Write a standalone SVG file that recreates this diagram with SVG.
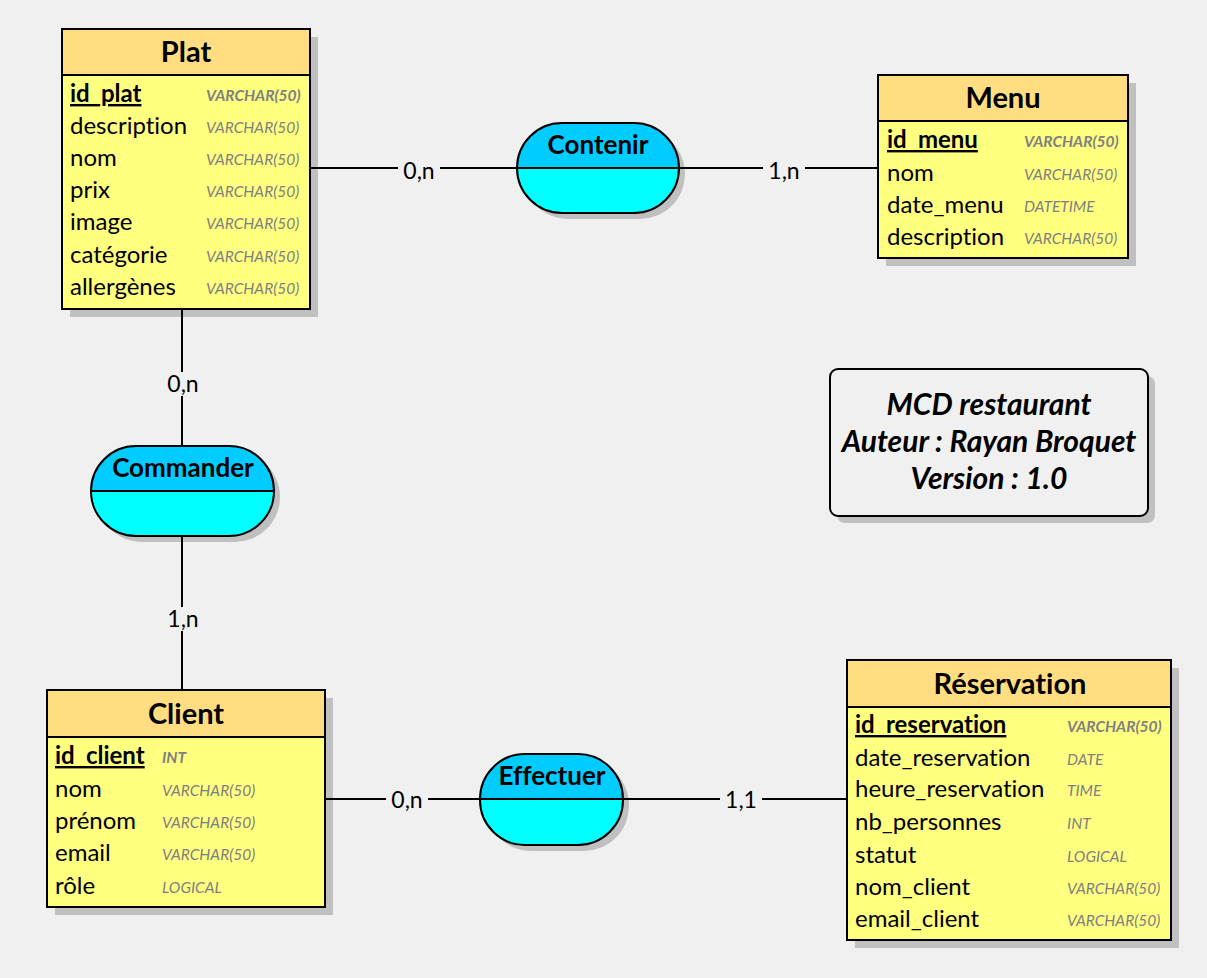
<svg xmlns="http://www.w3.org/2000/svg" width="1207" height="978" viewBox="0 0 1207 978">
<style>
text{font-variant-ligatures:none;font-feature-settings:"liga" 0}
.bg{fill:#f0f0f0}
.shadow{fill:#c0c0c0}
.head{fill:#ffdd80;stroke:#000;stroke-width:2}
.body{fill:#ffff80;stroke:#000;stroke-width:2}
.title{font-family:Lato,"Liberation Sans",sans-serif;font-weight:bold;font-size:29px;text-anchor:middle;fill:#000}
.attr{font-family:Lato,"Liberation Sans",sans-serif;font-size:24px;fill:#000}
.key{font-weight:bold;text-decoration:underline}
.type{font-family:Lato,"Liberation Sans",sans-serif;font-style:italic;font-size:15.5px;fill:#808080}
.tkey{font-weight:bold}
.line{stroke:#000;stroke-width:2;fill:none}
.card{font-family:Lato,"Liberation Sans",sans-serif;font-size:23px;text-anchor:middle;fill:#000}
.atop{fill:#00ccff}
.abot{fill:#00ffff}
.aname{font-family:Lato,"Liberation Sans",sans-serif;font-weight:bold;font-size:26px;text-anchor:middle;fill:#000}
.note{font-family:Lato,"Liberation Sans",sans-serif;font-weight:bold;font-style:italic;font-size:30px;text-anchor:middle;fill:#000}
</style>
<defs>
<clipPath id="cpC"><rect x="517" y="123" width="162" height="90" rx="45"/></clipPath>
<clipPath id="cpK"><rect x="91" y="446" width="183" height="90" rx="45"/></clipPath>
<clipPath id="cpE"><rect x="480" y="754" width="143" height="91" rx="45"/></clipPath>
</defs>
<rect class="bg" x="0" y="0" width="1207" height="978"/>

<g id="plat">
<rect class="shadow" x="70" y="37" width="248" height="280"/>
<rect class="body" x="62" y="29" width="248" height="280"/>
<rect class="head" x="62" y="29" width="248" height="46"/>
<text class="title" x="186" y="62">Plat</text>
<text class="attr key" x="70" y="102">id_plat</text><text class="type tkey" x="206" y="101">VARCHAR(50)</text>
<text class="attr" x="70" y="134">description</text><text class="type" x="206" y="133">VARCHAR(50)</text>
<text class="attr" x="70" y="166">nom</text><text class="type" x="206" y="165">VARCHAR(50)</text>
<text class="attr" x="70" y="198">prix</text><text class="type" x="206" y="197">VARCHAR(50)</text>
<text class="attr" x="70" y="230">image</text><text class="type" x="206" y="229">VARCHAR(50)</text>
<text class="attr" x="70" y="263">catégorie</text><text class="type" x="206" y="262">VARCHAR(50)</text>
<text class="attr" x="70" y="295">allergènes</text><text class="type" x="206" y="294">VARCHAR(50)</text>
</g>

<g id="menu">
<rect class="shadow" x="886" y="83" width="250" height="183"/>
<rect class="body" x="878" y="75" width="250" height="183"/>
<rect class="head" x="878" y="75" width="250" height="46"/>
<text class="title" x="1003" y="108">Menu</text>
<text class="attr key" x="887" y="148">id_menu</text><text class="type tkey" x="1024" y="147">VARCHAR(50)</text>
<text class="attr" x="887" y="181">nom</text><text class="type" x="1024" y="180">VARCHAR(50)</text>
<text class="attr" x="887" y="213">date_menu</text><text class="type" x="1024" y="212">DATETIME</text>
<text class="attr" x="887" y="245">description</text><text class="type" x="1024" y="244">VARCHAR(50)</text>
</g>

<g id="client">
<rect class="shadow" x="55" y="698" width="278" height="217"/>
<rect class="body" x="47" y="690" width="278" height="217"/>
<rect class="head" x="47" y="690" width="278" height="47"/>
<text class="title" x="186" y="724">Client</text>
<text class="attr key" x="55" y="764">id_client</text><text class="type tkey" x="162" y="763">INT</text>
<text class="attr" x="55" y="797">nom</text><text class="type" x="162" y="796">VARCHAR(50)</text>
<text class="attr" x="55" y="829">prénom</text><text class="type" x="162" y="828">VARCHAR(50)</text>
<text class="attr" x="55" y="861">email</text><text class="type" x="162" y="860">VARCHAR(50)</text>
<text class="attr" x="55" y="894">rôle</text><text class="type" x="162" y="893">LOGICAL</text>
</g>

<g id="reservation">
<rect class="shadow" x="855" y="668" width="324" height="280"/>
<rect class="body" x="847" y="660" width="324" height="280"/>
<rect class="head" x="847" y="660" width="324" height="47"/>
<text class="title" x="1010" y="694">Réservation</text>
<text class="attr key" x="855" y="733">id_reservation</text><text class="type tkey" x="1067" y="732">VARCHAR(50)</text>
<text class="attr" x="855" y="766">date_reservation</text><text class="type" x="1067" y="765">DATE</text>
<text class="attr" x="855" y="797">heure_reservation</text><text class="type" x="1067" y="796">TIME</text>
<text class="attr" x="855" y="830">nb_personnes</text><text class="type" x="1067" y="829">INT</text>
<text class="attr" x="855" y="863">statut</text><text class="type" x="1067" y="862">LOGICAL</text>
<text class="attr" x="855" y="895">nom_client</text><text class="type" x="1067" y="894">VARCHAR(50)</text>
<text class="attr" x="855" y="927">email_client</text><text class="type" x="1067" y="926">VARCHAR(50)</text>
</g>

<g id="contenir">
<rect class="shadow" x="523" y="129" width="162" height="90" rx="45"/>
<g clip-path="url(#cpC)">
<rect class="atop" x="517" y="123" width="162" height="45"/>
<rect class="abot" x="517" y="168" width="162" height="45"/>
</g>
<rect class="line" x="517" y="123" width="162" height="90" rx="45"/>
<line class="line" x1="517" y1="168" x2="679" y2="168"/>
<text class="aname" x="598" y="154">Contenir</text>
</g>

<g id="commander">
<rect class="shadow" x="97" y="452" width="183" height="90" rx="45"/>
<g clip-path="url(#cpK)">
<rect class="atop" x="91" y="446" width="183" height="45"/>
<rect class="abot" x="91" y="491" width="183" height="45"/>
</g>
<rect class="line" x="91" y="446" width="183" height="90" rx="45"/>
<line class="line" x1="91" y1="491" x2="274" y2="491"/>
<text class="aname" x="183" y="477">Commander</text>
</g>

<g id="effectuer">
<rect class="shadow" x="486" y="760" width="143" height="91" rx="45"/>
<g clip-path="url(#cpE)">
<rect class="atop" x="480" y="754" width="143" height="45"/>
<rect class="abot" x="480" y="799" width="143" height="46"/>
</g>
<rect class="line" x="480" y="754" width="143" height="91" rx="45"/>
<line class="line" x1="480" y1="799" x2="623" y2="799"/>
<text class="aname" x="552" y="785">Effectuer</text>
</g>

<g id="note">
<rect class="shadow" x="837" y="376" width="318" height="147" rx="8"/>
<rect x="830" y="369" width="318" height="147" rx="8" fill="#f0f0f0" stroke="#000" stroke-width="2"/>
<text class="note" x="989" y="415">MCD restaurant</text>
<text class="note" x="989" y="452">Auteur : Rayan Broquet</text>
<text class="note" x="989" y="489">Version : 1.0</text>
</g>

<g id="connectors">
<line class="line" x1="310" y1="168" x2="517" y2="168"/>
<line class="line" x1="679" y1="168" x2="878" y2="168"/>
<line class="line" x1="182" y1="310" x2="182" y2="446"/>
<line class="line" x1="182" y1="536" x2="182" y2="690"/>
<line class="line" x1="325" y1="799" x2="480" y2="799"/>
<line class="line" x1="623" y1="799" x2="847" y2="799"/>
<rect class="bg" x="398" y="157" width="42" height="24"/>
<text class="card" x="419" y="179">0,n</text>
<rect class="bg" x="763" y="157" width="42" height="24"/>
<text class="card" x="784" y="179">1,n</text>
<rect class="bg" x="162" y="372" width="42" height="24"/>
<text class="card" x="183" y="392">0,n</text>
<rect class="bg" x="162" y="607" width="42" height="24"/>
<text class="card" x="183" y="627">1,n</text>
<rect class="bg" x="386" y="788" width="42" height="24"/>
<text class="card" x="407" y="808">0,n</text>
<rect class="bg" x="720" y="788" width="42" height="24"/>
<text class="card" x="741" y="808">1,1</text>
</g>
</svg>
